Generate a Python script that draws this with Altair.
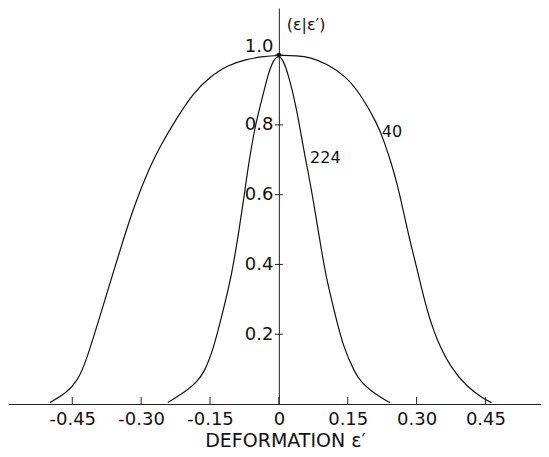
import altair as alt
import pandas as pd

# ---- data ----
x_ticks = [-0.45, -0.30, -0.15, 0, 0.15, 0.30, 0.45]
y_ticks = [0.2, 0.4, 0.6, 0.8, 1.0]

wide_x = [-0.499, -0.463, -0.437, -0.419, -0.390, -0.346, -0.315, -0.281, -0.259,
          -0.230, -0.185, -0.150, -0.113, -0.070, -0.040, 0.0, 0.040, 0.068, 0.105,
          0.145, 0.177, 0.214, 0.230, 0.245, 0.258, 0.270, 0.285, 0.300, 0.322, 0.344,
          0.373, 0.409, 0.445, 0.463]
wide_y = [0.004, 0.031, 0.069, 0.126, 0.250, 0.441, 0.570, 0.680, 0.737,
          0.804, 0.895, 0.937, 0.971, 0.988, 0.995, 1.0, 0.998, 0.994, 0.975,
          0.940, 0.890, 0.805, 0.750, 0.690, 0.630, 0.560, 0.470, 0.393, 0.269, 0.183,
          0.107, 0.050, 0.016, 0.004]

narrow_x = [-0.242, -0.220, -0.199, -0.180, -0.163, -0.141, -0.123, -0.105, -0.090,
            -0.075, -0.067, -0.052, -0.041, -0.023, -0.012, 0.0, 0.009, 0.020, 0.038,
            0.053, 0.060, 0.073, 0.089, 0.104, 0.122, 0.140, 0.166, 0.180, 0.199,
            0.220, 0.242]
narrow_y = [0.004, 0.022, 0.040, 0.062, 0.088, 0.164, 0.260, 0.355, 0.470,
            0.600, 0.680, 0.795, 0.852, 0.948, 0.986, 1.0, 0.986, 0.948, 0.852,
            0.737, 0.690, 0.600, 0.470, 0.355, 0.260, 0.164, 0.088, 0.062, 0.040,
            0.020, 0.004]

note_text = ["224", "40", "(ε|ε′)"]
note_x = [0.068, 0.224, 0.017]
note_y = [0.705, 0.78, 1.086]

peak_x = [0.0]
peak_y = [1.0]

# ---- layout ----
W, H = 533, 396
XMIN, XMAX = -0.59, 0.571
YMAX = 1.135
zero_px = W * (0 - XMIN) / (XMAX - XMIN)
FONT = "DejaVu Sans"
INK = "#111"

rows = []
for i, (a, b) in enumerate(zip(wide_x, wide_y)):
    rows.append({"x": a, "y": b, "series": "40", "o": i})
for i, (a, b) in enumerate(zip(narrow_x, narrow_y)):
    rows.append({"x": a, "y": b, "series": "224", "o": i})
curves_df = pd.DataFrame(rows)
notes_df = pd.DataFrame({"x": note_x, "y": note_y, "t": note_text})
peak_df = pd.DataFrame({"x": peak_x, "y": peak_y})
xt_df = pd.DataFrame({"x": x_ticks})
yt_df = pd.DataFrame({"y": y_ticks})

xs = alt.Scale(domain=[XMIN, XMAX], nice=False, zero=False)
ys = alt.Scale(domain=[0, YMAX], nice=False, zero=False)

x_axis = alt.Axis(
    orient="bottom", values=x_ticks, ticks=False, grid=False,
    labelExpr="datum.value == 0 ? '0' : (datum.value < 0 ? '-' : '') + format(abs(datum.value), '.2f')",
    labelFont=FONT, labelFontSize=18, labelColor=INK, labelPadding=6,
    domainColor="#222", domainWidth=1,
    title="DEFORMATION ε′", titleFont=FONT, titleFontSize=19, titleFontWeight="normal",
    titleColor=INK, titlePadding=3, titleX=277, titleAnchor="start", titleAlign="center",
    labelFlush=False, labelOverlap=False,
)
y_axis = alt.Axis(
    orient="left", offset=-zero_px, values=y_ticks, grid=False, ticks=False,
    domainColor="#222", domainWidth=1,
    format=".1f", labelFont=FONT, labelFontSize=18, labelColor=INK, labelPadding=6,
    labelBaseline=alt.ExprRef("datum.value == 1 ? 'bottom' : 'middle'"),
    title=None, labelFlush=False, labelOverlap=False,
)

curves = alt.Chart(curves_df).mark_line(
    color=INK, strokeWidth=1.2, interpolate="basis"
).encode(
    x=alt.X("x:Q", scale=xs, axis=x_axis),
    y=alt.Y("y:Q", scale=ys, axis=y_axis),
    detail="series:N",
    order="o:Q",
)

peak = alt.Chart(peak_df).mark_point(filled=True, color=INK, size=22, opacity=1).encode(
    x=alt.X("x:Q", scale=xs),
    y=alt.Y("y:Q", scale=ys),
)

notes = alt.Chart(notes_df).mark_text(
    font=FONT, fontSize=16, color=INK, align="left", baseline="middle"
).encode(
    x=alt.X("x:Q", scale=xs),
    y=alt.Y("y:Q", scale=ys),
    text="t:N",
)

# inward x ticks and crossing y ticks
xticks = alt.Chart(xt_df).mark_rule(color="#222", strokeWidth=1).encode(
    x=alt.X("x:Q", scale=xs),
    y=alt.value(H),
    y2=alt.value(H - 7),
)
yticks = alt.Chart(yt_df).mark_rule(color="#222", strokeWidth=1).encode(
    y=alt.Y("y:Q", scale=ys),
    x=alt.value(zero_px - 4),
    x2=alt.value(zero_px + 4),
)

chart = alt.layer(curves, xticks, yticks, peak, notes).properties(
    width=W, height=H,
    padding={"left": 0, "top": 0, "right": 0, "bottom": 0},
    background="white",
).configure_view(stroke=None)

chart.save("out.html", embed_options={"renderer": "svg", "actions": False})
